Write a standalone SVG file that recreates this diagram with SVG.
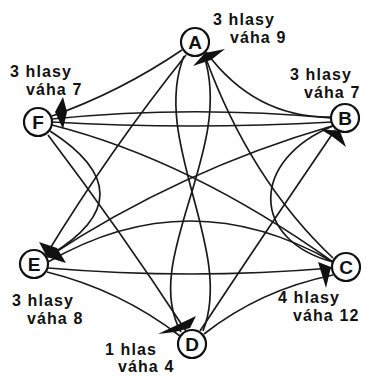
<svg xmlns="http://www.w3.org/2000/svg" width="366" height="376" viewBox="0 0 366 376">
<style>
.n{fill:#fff;stroke:#111;stroke-width:2.2}
.nl{font-family:"Liberation Sans",Arial,sans-serif;font-size:19px;font-weight:bold;fill:#111;text-anchor:middle}
.lb{font-family:"Liberation Sans",Arial,sans-serif;font-size:16px;font-weight:bold;fill:#111;letter-spacing:1.1px}
.e{fill:none;stroke:#1a1a1a;stroke-width:1.7}
.ah{fill:#111}
</style>
<rect width="366" height="376" fill="#fff"/>
<g id="connectors">
<path class="e" d="M206,52 Q255,118 331,117"/>
<path class="e" d="M52,116 Q120,92 182,50"/>
<path class="e" d="M186,55 Q110,150 46,255"/>
<path class="e" d="M184,56 C150,140 235,250 203,331"/>
<path class="e" d="M204,56 C235,150 140,260 181,332"/>
<path class="e" d="M205,56 Q250,180 333,258"/>
<path class="e" d="M52,119 Q190,105 331,118"/>
<path class="e" d="M52,125 Q190,160 333,262"/>
<path class="e" d="M48,135 Q120,230 186,331"/>
<path class="e" d="M50,131 Q150,195 50,255"/>
<path class="e" d="M48,257 Q180,170 332,126"/>
<path class="e" d="M48,268 Q190,280 332,268"/>
<path class="e" d="M48,262 Q190,180 333,262"/>
<path class="e" d="M47,272 Q120,290 180,336"/>
<path class="e" d="M333,126 C250,160 250,240 333,262"/>
<path class="e" d="M335,130 Q260,240 200,331"/>
<path class="e" d="M333,275 Q260,290 204,334"/>
<path class="e" d="M333,122 Q190,130 52,122"/>
</g>
<g id="arrowheads">
<polygon class="ah" points="193,66 205,53 225,49 211,60"/>
<polygon class="ah" points="55,112 63,97 67,112 63,129"/>
<polygon class="ah" points="39,242 57,248 66,263 47,257"/>
<polygon class="ah" points="320,129 340,131 346,147 333,137"/>
<polygon class="ah" points="318,262 331,267 326,288 322,275"/>
<polygon class="ah" points="158,334 196,316 190,328 175,332"/>
</g>
<g id="A"><circle class="n" cx="195" cy="42" r="14"/><text class="nl" x="195" y="49">A</text></g>
<g id="B"><circle class="n" cx="345" cy="118" r="14"/><text class="nl" x="345" y="125">B</text></g>
<g id="C"><circle class="n" cx="346" cy="267" r="14"/><text class="nl" x="346" y="274">C</text></g>
<g id="D"><circle class="n" cx="192" cy="344" r="14"/><text class="nl" x="192" y="351">D</text></g>
<g id="E"><circle class="n" cx="34" cy="264" r="14"/><text class="nl" x="34" y="271">E</text></g>
<g id="F"><circle class="n" cx="38" cy="122" r="14"/><text class="nl" x="38" y="129">F</text></g>
<g id="labels">
<text class="lb" x="213" y="25">3 hlasy</text>
<text class="lb" x="230" y="43">váha 9</text>
<text class="lb" x="290" y="80">3 hlasy</text>
<text class="lb" x="304" y="98">váha 7</text>
<text class="lb" x="10" y="77">3 hlasy</text>
<text class="lb" x="26" y="95">váha 7</text>
<text class="lb" x="12" y="306">3 hlasy</text>
<text class="lb" x="27" y="324">váha 8</text>
<text class="lb" x="278" y="303">4 hlasy</text>
<text class="lb" x="293" y="321">váha 12</text>
<text class="lb" x="105" y="355">1 hlas</text>
<text class="lb" x="118" y="372">váha 4</text>
</g>
</svg>
